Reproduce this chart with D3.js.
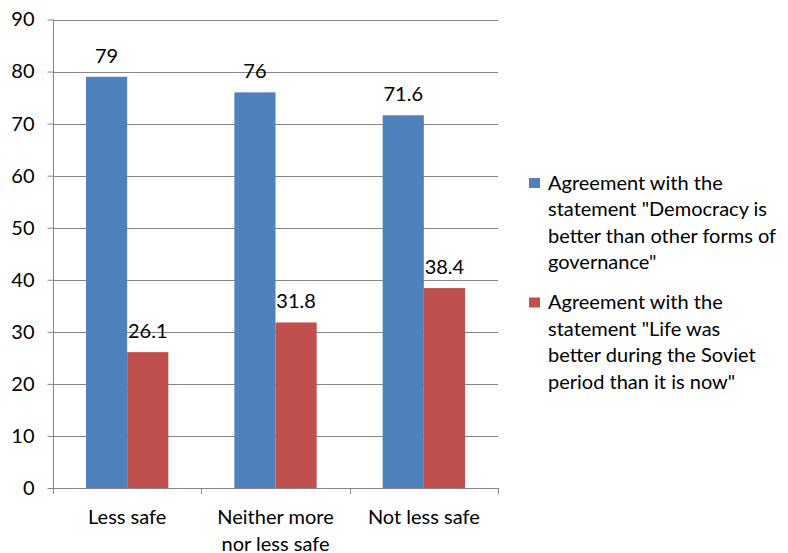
<!DOCTYPE html>
<html>
<head>
<meta charset="utf-8">
<script src="https://cdn.jsdelivr.net/npm/d3@7"></script>
<style>
  html, body { margin: 0; padding: 0; background: #fff; }
  svg { display: block; font-family: Lato, "Open Sans", sans-serif; }
</style>
</head>
<body>
<svg id="chart" width="788" height="553"></svg>
<script>
const categories = [["Less safe"], ["Neither more", "nor less safe"], ["Not less safe"]];
const categoryKeys = ["Less safe", "Neither more nor less safe", "Not less safe"];
const seriesNames = ["democracy", "soviet"];
const democracyValues = [79, 76, 71.6];
const sovietValues = [26.1, 31.8, 38.4];
const yTicks = [0, 10, 20, 30, 40, 50, 60, 70, 80, 90];
const legendLabels = [
  ["Agreement with the", "statement \"Democracy is", "better than other forms of", "governance\""],
  ["Agreement with the", "statement \"Life was", "better during the Soviet", "period than it is now\""]
];
const colors = ["#4F81BD", "#C0504D"];

const FS = 20;
const svg = d3.select("#chart");
const plot = { left: 53, right: 498, top: 19.5, bottom: 488 };

const y = d3.scaleLinear().domain([0, 90]).range([plot.bottom, plot.top]);
const x0 = d3.scaleBand().domain(categoryKeys).range([plot.left, plot.right]).padding(0);
const pad = 33;
const x1 = d3.scaleBand().domain(seriesNames).range([pad, x0.bandwidth() - pad]).padding(0);

const gridColor = "#868686";

// gridlines
svg.append("g")
  .selectAll("line")
  .data(yTicks.filter(d => d > 0))
  .join("line")
  .attr("x1", plot.left).attr("x2", plot.right)
  .attr("y1", d => Math.round(y(d)) + 0.5).attr("y2", d => Math.round(y(d)) + 0.5)
  .attr("stroke", gridColor).attr("stroke-width", 1);

// y axis
const yAxis = d3.axisLeft(y).tickValues(yTicks).tickSize(6).tickPadding(13).tickFormat(d3.format("d"));
const gy = svg.append("g").attr("transform", `translate(${plot.left + 0.5},0)`).call(yAxis);
gy.select(".domain").attr("stroke", gridColor).attr("d", `M0,${y(90)}V${plot.bottom}`);
gy.selectAll(".tick line").attr("stroke", gridColor);
gy.selectAll(".tick text").attr("font-size", FS).attr("fill", "#000").attr("font-family", "Lato, sans-serif");

// bars
const data = categoryKeys.map((c, i) => ({ cat: c, vals: [democracyValues[i], sovietValues[i]] }));
const groups = svg.append("g").selectAll("g").data(data).join("g")
  .attr("transform", d => `translate(${x0(d.cat)},0)`);
groups.selectAll("rect")
  .data(d => d.vals.map((v, j) => ({ key: seriesNames[j], v, j })))
  .join("rect")
  .attr("x", d => x1(d.key))
  .attr("width", x1.bandwidth())
  .attr("y", d => y(d.v))
  .attr("height", d => plot.bottom - y(d.v))
  .attr("fill", d => colors[d.j]);
groups.selectAll("text.val")
  .data(d => d.vals.map((v, j) => ({ key: seriesNames[j], v, j })))
  .join("text")
  .attr("class", "val")
  .attr("x", d => x1(d.key) + x1.bandwidth() / 2)
  .attr("y", d => y(d.v) - 14)
  .attr("text-anchor", "middle")
  .attr("font-size", FS)
  .attr("fill", "#000")
  .text(d => d.v);

// x axis
const gx = svg.append("g");
gx.append("line")
  .attr("x1", plot.left).attr("x2", plot.right)
  .attr("y1", plot.bottom + 0.5).attr("y2", plot.bottom + 0.5)
  .attr("stroke", gridColor);
const boundaries = categoryKeys.map(c => x0(c)).concat([x0(categoryKeys[2]) + x0.bandwidth()]);
gx.selectAll("line.tk").data(boundaries).join("line")
  .attr("class", "tk")
  .attr("x1", d => Math.round(d) + 0.5).attr("x2", d => Math.round(d) + 0.5)
  .attr("y1", plot.bottom).attr("y2", plot.bottom + 6)
  .attr("stroke", gridColor);
const catLabels = gx.selectAll("text.cat").data(categoryKeys).join("text")
  .attr("class", "cat")
  .attr("text-anchor", "middle")
  .attr("font-size", FS)
  .attr("fill", "#000");
catLabels.each(function(d, i) {
  const t = d3.select(this);
  categories[i].forEach((line, k) => {
    t.append("tspan")
      .attr("x", x0(d) + x0.bandwidth() / 2)
      .attr("y", 524 + k * 26.5)
      .text(line);
  });
});

// legend
const legendTops = [189.5, 309];
const lg = svg.append("g").selectAll("g").data(legendLabels).join("g");
lg.append("rect")
  .attr("x", 529).attr("y", (d, i) => legendTops[i] - 11.5)
  .attr("width", 11).attr("height", 10)
  .attr("fill", (d, i) => colors[i]);
lg.append("text")
  .attr("font-size", FS).attr("fill", "#000")
  .each(function(d, i) {
    const t = d3.select(this);
    d.forEach((line, k) => {
      t.append("tspan").attr("x", 548).attr("y", legendTops[i] + k * 26.5).text(line);
    });
  });
</script>
</body>
</html>
